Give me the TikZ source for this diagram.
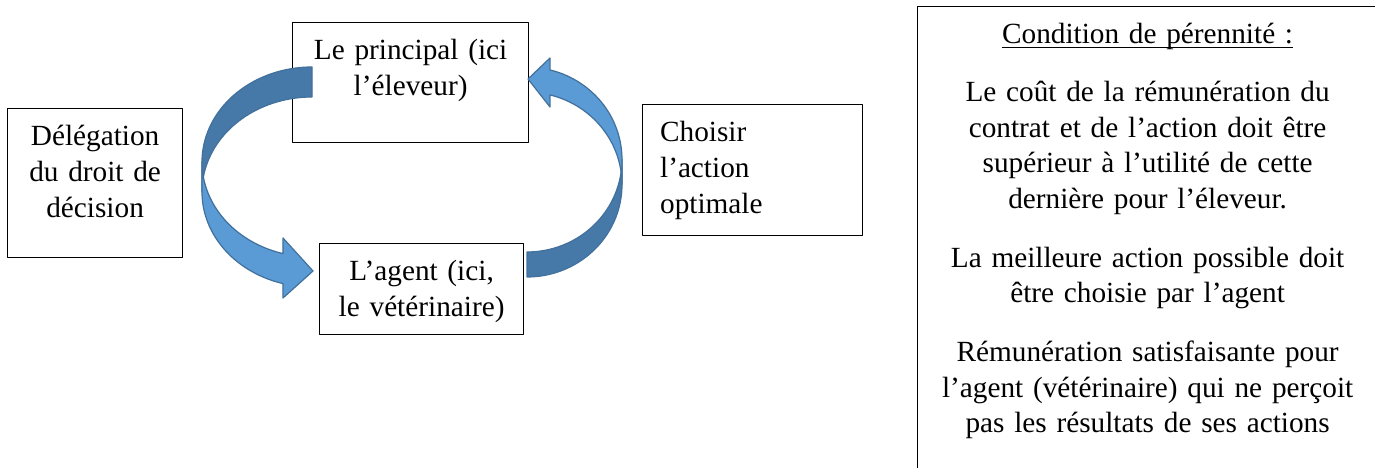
\documentclass[tikz,border=0pt]{standalone}
\usepackage{fontspec}
\setmainfont{Liberation Serif}
\newlength\pix
\setlength\pix{0.41pt}
\definecolor{bleuclair}{RGB}{91,155,213}
\definecolor{bleufonce}{RGB}{70,120,168}
\definecolor{bleubord}{RGB}{65,113,156}
\begin{document}
\begin{tikzpicture}[line join=round, x=0.41pt, y=-0.41pt, font=\fontsize{12}{14.64}\selectfont]
	\tikzset{boite/.style={draw, fill=white, line width=0.5pt, anchor=north west, inner xsep=17.5\pix, inner ysep=0pt, text height=37\pix, align=center},
		fleche/.style={draw=bleubord, line width=0.5pt}}
	\useasboundingbox (0,0) rectangle (1375,468);
	\clip (0,0) rectangle (1375,468);
	\node[boite, text width=140\pix, text depth=112\pix] (delegation) at (7,108) {Délégation\\du droit de\\décision};
	\node[boite, text width=201\pix, text depth=83\pix] (principal) at (292,22) {Le principal (ici\\l’éleveur)};
	\node[boite, text width=169\pix, text depth=54\pix] (agent) at (319,243) {L’agent (ici,\\le vétérinaire)};
	\node[boite, text width=185\pix, text depth=94\pix, align=left] (choisir) at (642,104) {Choisir\\l’action\\optimale};
	\node[boite, text width=425\pix, text depth=460\pix] (condition) at (917,6) {\underline{\smash{Condition de pérennité :}}\\[22\pix]
		Le coût de la rémunération du\\contrat et de l’action doit être\\supérieur à l’utilité de cette\\dernière pour l’éleveur.\\[23\pix]
		La meilleure action possible doit\\être choisie par l’agent\\[23\pix]
		Rémunération satisfaisante pour\\l’agent (vétérinaire) qui ne perçoit\\pas les résultats de ses actions};
	% principal -> agent
	\path[fleche, fill=bleufonce] plot[domain=270:180, samples=40] ({312+110*cos(\x)},{162+95*sin(\x)})
		-- plot[domain=180:270, samples=40] ({312+110*cos(\x)},{192+95*sin(\x)}) -- cycle;
	\path[fleche, fill=bleuclair] plot[domain=180:105.3, samples=40] ({312+110*cos(\x)},{162+95*sin(\x)})
		-- (283,238) -- (313,271) -- (283,298)
		-- plot[domain=105.3:180, samples=40] ({312+110*cos(\x)},{192+95*sin(\x)}) -- cycle;
	% agent -> principal
	\path[fleche, fill=bleufonce] plot[domain=90:0, samples=40] ({527+95*cos(\x)},{184.6+92.4*sin(\x)})
		-- plot[domain=0:90, samples=40] ({527+95*cos(\x)},{159.6+92.4*sin(\x)}) -- cycle;
	\path[fleche, fill=bleuclair] plot[domain=0:-76, samples=40] ({527+95*cos(\x)},{159.6+92.4*sin(\x)})
		-- (550,58) -- (528,79) -- (550,107)
		-- plot[domain=-76:0, samples=40] ({527+95*cos(\x)},{184.6+92.4*sin(\x)}) -- cycle;
\end{tikzpicture}
\end{document}
